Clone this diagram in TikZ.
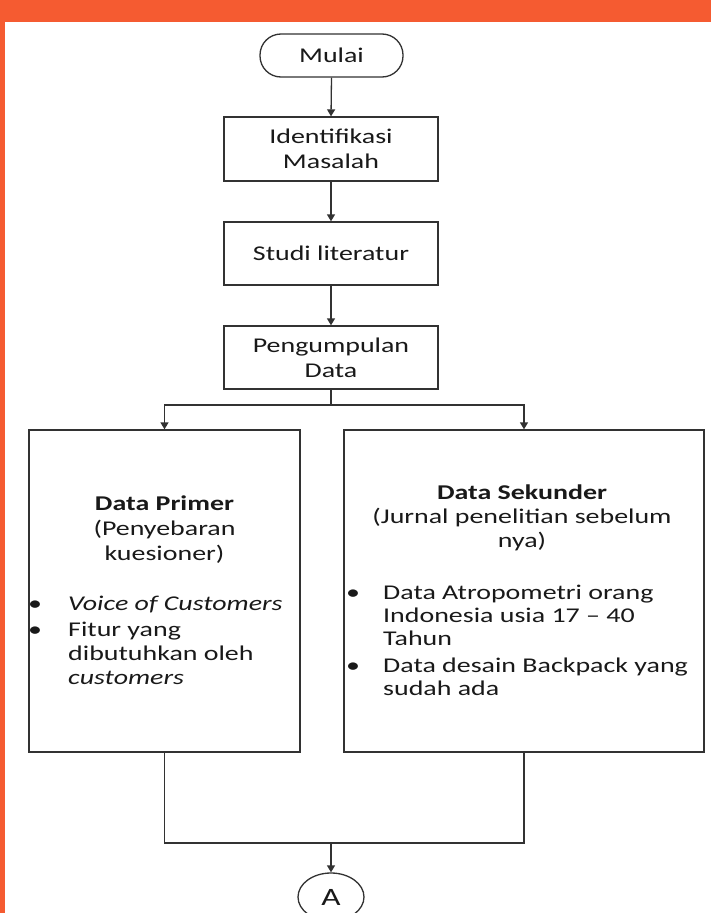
\documentclass[tikz,border=0pt]{standalone}
\usepackage{fontspec}
\setmainfont{Carlito}[FakeStretch=1.33]
\usetikzlibrary{arrows.meta,shapes.geometric}
\definecolor{bandorange}{RGB}{245,91,49}
\definecolor{linegray}{RGB}{50,50,50}
\tikzset{
  x=1pt, y=-1pt,
  every node/.style={font=\fontsize{21}{25}\selectfont, text=black!90},
  flowbox/.style={draw=linegray, line width=1.3pt, fill=white, align=center, inner sep=0pt},
  termbox/.style={flowbox, rounded corners=21pt},
  conn/.style={draw=linegray, line width=1.3pt},
  arr/.style={conn, -{Triangle[width=8pt,length=7pt]}},
  txt/.style={anchor=base west, inner sep=0pt},
  ctxt/.style={anchor=base, inner sep=0pt},
}
\begin{document}
\begin{tikzpicture}
\useasboundingbox (0,0) rectangle (711,913);
\clip (0,0) rectangle (711,913);
\fill[white] (0,0) rectangle (711,913);
\fill[bandorange] (0,0) rectangle (711,22);
\fill[bandorange] (0,0) rectangle (5,913);

\node[termbox, minimum width=143pt, minimum height=43pt] (mulai) at (331.5,55.5) {Mulai};
\node[flowbox, minimum width=214pt, minimum height=64pt] (ident) at (331,149) {Identifikasi\\Masalah};
\node[flowbox, minimum width=214pt, minimum height=63pt] (studi) at (331,253.5) {Studi literatur};
\node[flowbox, minimum width=214pt, minimum height=63pt] (kumpul) at (331,357.5) {Pengumpulan\\Data};

\node[flowbox, minimum width=271pt, minimum height=322pt] (primer) at (164.5,591) {};
\node[flowbox, minimum width=360pt, minimum height=322pt] (sekunder) at (524,591) {};

\node[draw=linegray, line width=1.3pt, ellipse, minimum width=66pt, minimum height=48pt, inner sep=0pt, font=\fontsize{25}{25}\selectfont] (A) at (331,897) {A};

\draw[arr] (mulai.south) -- (ident.north);
\draw[arr] (ident.south) -- (studi.north);
\draw[arr] (studi.south) -- (kumpul.north);
\coordinate (split) at (331,405);
\draw[conn] (kumpul.south) -- (split);
\draw[arr] (split) -| (primer.north);
\draw[arr] (split) -| (sekunder.north);
\coordinate (join) at (331,843);
\draw[conn] (primer.south) |- (join) -| (sekunder.south);
\draw[arr] (join) -- (A.north);

% Data Primer text
\node[ctxt] (p1) at (164.5,510) {\textbf{Data Primer}};
\node[ctxt] (p2) at (164.5,535) {(Penyebaran};
\node[ctxt] (p3) at (164.5,560) {kuesioner)};
\node[ctxt] (pb1) at (35,610) {\textbullet};
\node[txt] (pi1) at (68,610) {\textit{Voice of Customers}};
\node[ctxt] (pb2) at (35,636) {\textbullet};
\node[txt] (pi2) at (68,636) {Fitur yang};
\node[txt] (pi3) at (68,660) {dibutuhkan oleh};
\node[txt] (pi4) at (68,684) {\textit{customers}};

% Data Sekunder text
\node[ctxt] (s1) at (522,499) {\textbf{Data Sekunder}};
\node[ctxt] (s2) at (522,523) {(Jurnal penelitian sebelum};
\node[ctxt] (s3) at (522,547) {nya)};
\node[ctxt] (sb1) at (353,599) {\textbullet};
\node[txt] (si1) at (383,599) {Data Atropometri orang};
\node[txt] (si2) at (383,622) {Indonesia usia 17 – 40};
\node[txt] (si3) at (383,645) {Tahun};
\node[ctxt] (sb2) at (353,672) {\textbullet};
\node[txt] (si4) at (383,672) {Data desain Backpack yang};
\node[txt] (si5) at (383,695) {sudah ada};
\end{tikzpicture}
\end{document}
